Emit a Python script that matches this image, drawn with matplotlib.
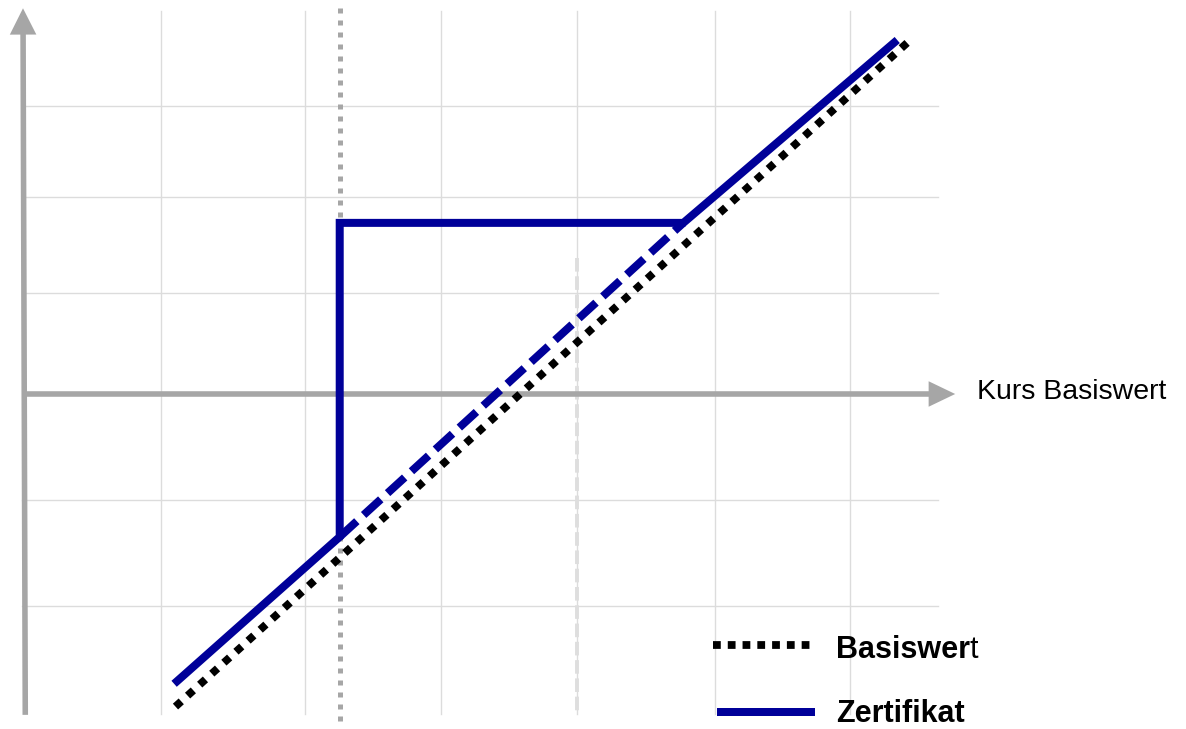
import matplotlib
matplotlib.use("Agg")
import matplotlib.pyplot as plt
from matplotlib.patches import FancyArrowPatch

# ---- data (chart units: x = Kurs Basiswert, y = Auszahlung) ----
basis_x = [22.1, 128.7]
basis_y = [-45.3, 51.4]

zert_x = [21.9, 45.9, 45.9, 95.7, 126.7]
zert_y = [-42.0, -20.7, 24.8, 24.8, 51.3]

zert_dash_x = [45.9, 95.7]
zert_dash_y = [-20.7, 24.8]

barrier_x = 45.9          # grey dotted vertical line
strike_x = 80.3           # light dashed vertical line
strike_top = 19.7

grid_x = [20.0, 40.9, 60.6, 80.3, 100.3, 119.9]
grid_y = [41.7, 28.6, 14.6, -15.4, -30.7]

x_label = "Kurs Basiswert"
legend_labels = ["Basiswer", "t", "Zertifikat"]

# ---- style ----
NAVY = "#000099"
AXIS_GREY = "#a6a6a6"
GRID = "#dcdcdc"
FONT = "Liberation Sans"

fig = plt.figure(figsize=(11.86, 7.29), dpi=100)
ax = fig.add_axes([0, 0, 1, 1])
ax.set_xlim(-3.333, 168.55)
ax.set_ylim(-48.55, 57.1)
ax.axis("off")

# grid
for gx in grid_x:
    ax.plot([gx, gx], [-46.4, 55.5], color=GRID, lw=1.0, zorder=1)
for gy in grid_y:
    ax.plot([-0.1, 132.6], [gy, gy], color=GRID, lw=1.0, zorder=1)

# light dashed strike line
ax.plot([strike_x, strike_x], [strike_top, -46.4], color="#dedede", lw=2.8,
        linestyle=(0, (3.5, 1.2)), zorder=1.5)

# axes arrows
yarrow = FancyArrowPatch((0.33, -46.5), (0.0, 55.9),
                         arrowstyle="-|>,head_length=12.5,head_width=6.3",
                         mutation_scale=1, lw=4, color=AXIS_GREY,
                         shrinkA=0, shrinkB=0, joinstyle="miter", capstyle="butt",
                         zorder=2)
ax.add_patch(yarrow)
xarrow = FancyArrowPatch((-0.14, 0.0), (135.1, 0.0),
                         arrowstyle="-|>,head_length=12.5,head_width=6.0",
                         mutation_scale=1, lw=4, color=AXIS_GREY,
                         shrinkA=0, shrinkB=0, joinstyle="miter", capstyle="butt",
                         zorder=2)
ax.add_patch(xarrow)

# grey dotted barrier line
ax.plot([barrier_x, barrier_x], [55.9, -47.4], color=AXIS_GREY, lw=3.6,
        linestyle=(0, (1, 1.4)), dash_capstyle="butt", zorder=3)

# Basiswert (black dotted)
ax.plot(basis_x, basis_y, color="black", lw=5.6, linestyle=(0, (1, 1.1)),
        dash_capstyle="butt", zorder=4)

# Zertifikat
ax.plot(zert_dash_x, zert_dash_y, color=NAVY, lw=5.76, linestyle=(0, (2.9, 1.15)),
        dash_capstyle="butt", zorder=5)
ax.plot(zert_x, zert_y, color=NAVY, lw=5.76, solid_joinstyle="miter",
        solid_capstyle="butt", zorder=6)

# x-axis label
ax.text(138.2, -0.72, x_label, fontsize=20.5, family=FONT, ha="left",
        va="baseline", color="black")

# legend (manual)
ax.plot([100.0, 114.8], [-36.4, -36.4], color="black", lw=5.6,
        linestyle=(0, (1, 0.9)), dash_capstyle="butt", zorder=6)
ax.plot([100.6, 114.8], [-46.1, -46.1], color=NAVY, lw=5.76,
        solid_capstyle="butt", zorder=6)
t1 = ax.text(117.8, -38.3, legend_labels[0], fontsize=22, family=FONT,
             fontweight="bold", ha="left", va="baseline")
ax.annotate(legend_labels[1], xy=(1, 0), xycoords=t1, fontsize=22, family=FONT,
            ha="left", va="bottom")
ax.text(117.9, -47.5, legend_labels[2], fontsize=22, family=FONT,
        fontweight="bold", ha="left", va="baseline")

fig.savefig("out.png", dpi=100, facecolor="white")
